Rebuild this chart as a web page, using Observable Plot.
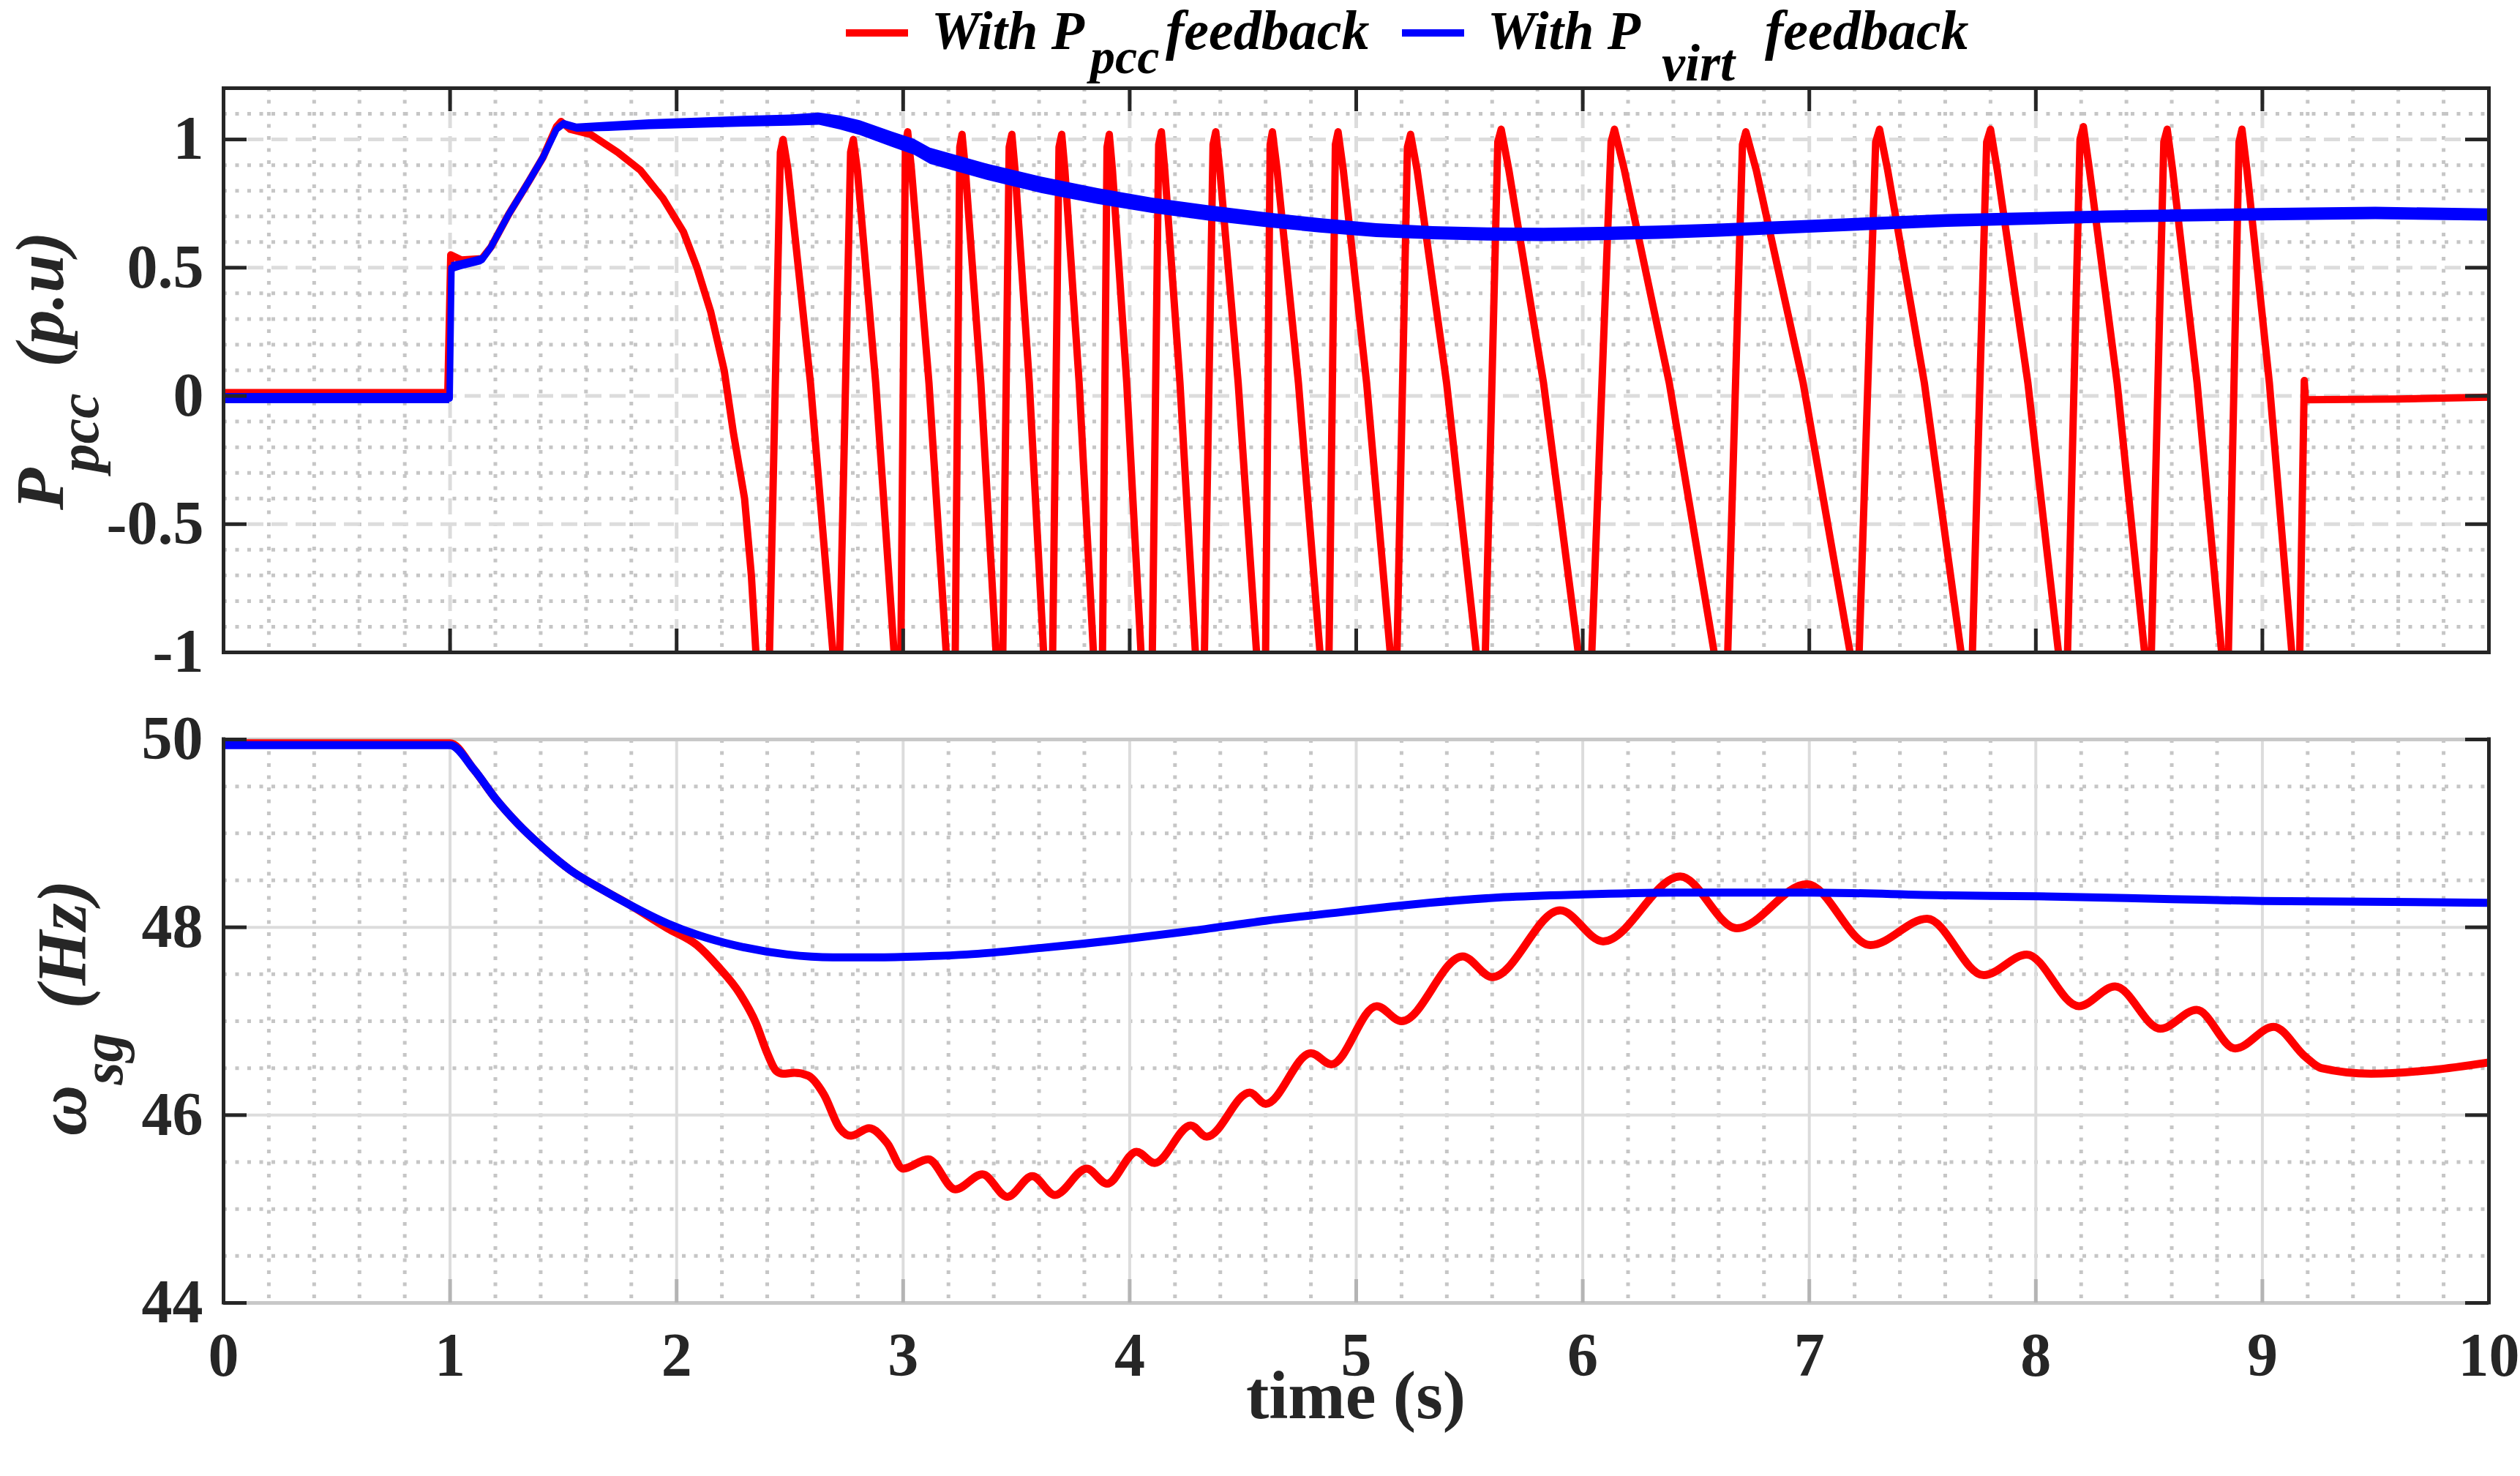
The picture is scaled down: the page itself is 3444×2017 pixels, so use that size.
<!DOCTYPE html>
<html><head><meta charset="utf-8">
<script src="https://cdn.jsdelivr.net/npm/d3@7"></script>
<script src="https://cdn.jsdelivr.net/npm/@observablehq/plot@0.6"></script>
<style>
html,body{margin:0;padding:0;background:#fff;}
#wrap{position:relative;width:3444px;height:2017px;background:#fff;overflow:hidden;}
#wrap > svg{position:absolute;left:0;}
</style></head><body><div id="wrap"></div>
<script>
// ---------------- data ----------------
const timeTicks = [0,1,2,3,4,5,6,7,8,9,10];
const pccTicks = [-1,-0.5,0,0.5,1];
const freqTicks = [44,46,48,50];
const pccMinorGrid = [-0.9,-0.8,-0.7,-0.6,-0.4,-0.3,-0.2,-0.1,0.1,0.2,0.3,0.4,0.6,0.7,0.8,0.9,1.1];
const freqMinorGrid = [44.5,45,45.5,46.5,47,47.5,48.5,49,49.5];
const timeMinorGrid = d3.range(0.2,10,0.2).filter(v => Math.abs(v - Math.round(v)) > 1e-6);

// P_pcc with P_pcc feedback (red): [time, p.u.]
const pccRedSeries = [
 [0,0.013],[0.99,0.013],[1.003,0.55],[1.05,0.53],[1.14,0.535],[1.18,0.58],[1.26,0.71],[1.35,0.84],[1.41,0.93],[1.47,1.05],[1.49,1.07],[1.53,1.04],[1.62,1.02],[1.74,0.95],[1.84,0.88],[1.94,0.77],[2.03,0.64],[2.09,0.50],[2.15,0.33],[2.21,0.10],[2.25,-0.14],[2.30,-0.40],[2.33,-0.70],[2.35,-1.0],[2.38,-1.12],
 [2.41,-1],[2.458,0.95],[2.47,1.00],[2.492,0.88],[2.591,0.05],[2.69,-1],[2.705,-1.12],
 [2.72,-1],[2.768,0.95],[2.78,1.00],[2.798,0.88],[2.879,0.05],[2.96,-1],[2.975,-1.12],
 [2.99,-1],[3.010,0.98],[3.02,1.03],[3.037,0.88],[3.114,0.05],[3.19,-1],[3.21,-1.12],
 [3.23,-1],[3.250,0.97],[3.26,1.02],[3.275,0.88],[3.343,0.05],[3.41,-1],[3.425,-1.12],
 [3.44,-1],[3.468,0.97],[3.48,1.02],[3.494,0.88],[3.557,0.05],[3.62,-1],[3.64,-1.12],
 [3.66,-1],[3.688,0.97],[3.70,1.02],[3.714,0.88],[3.777,0.05],[3.84,-1],[3.86,-1.12],
 [3.88,-1],[3.900,0.97],[3.91,1.02],[3.924,0.88],[3.987,0.05],[4.05,-1],[4.075,-1.12],
 [4.10,-1],[4.128,0.98],[4.14,1.03],[4.155,0.88],[4.222,0.05],[4.29,-1],[4.31,-1.12],
 [4.33,-1],[4.368,0.98],[4.38,1.03],[4.398,0.88],[4.479,0.05],[4.56,-1],[4.58,-1.12],
 [4.60,-1],[4.620,0.98],[4.63,1.03],[4.651,0.88],[4.745,0.05],[4.84,-1],[4.86,-1.12],
 [4.88,-1],[4.908,0.98],[4.92,1.03],[4.943,0.88],[5.046,0.05],[5.15,-1],[5.165,-1.12],
 [5.18,-1],[5.226,0.97],[5.24,1.02],[5.269,0.88],[5.399,0.05],[5.53,-1],[5.55,-1.12],
 [5.57,-1],[5.625,0.99],[5.64,1.04],[5.674,0.88],[5.827,0.05],[5.98,-1],[6.01,-1.12],
 [6.04,-1],[6.125,0.99],[6.14,1.04],[6.184,0.88],[6.382,0.05],[6.58,-1],[6.61,-1.12],
 [6.64,-1],[6.705,0.98],[6.72,1.03],[6.766,0.88],[6.973,0.05],[7.18,-1],[7.20,-1.12],
 [7.22,-1],[7.293,0.99],[7.31,1.04],[7.346,0.88],[7.508,0.05],[7.67,-1],[7.695,-1.12],
 [7.72,-1],[7.783,0.99],[7.80,1.04],[7.830,0.88],[7.965,0.05],[8.10,-1],[8.12,-1.12],
 [8.14,-1],[8.195,1.00],[8.21,1.05],[8.237,0.88],[8.359,0.05],[8.48,-1],[8.495,-1.12],
 [8.51,-1],[8.565,0.99],[8.58,1.04],[8.604,0.88],[8.712,0.05],[8.82,-1],[8.835,-1.12],
 [8.85,-1],[8.897,0.99],[8.91,1.04],[8.932,0.88],[9.031,0.05],[9.13,-1],[9.148,-1.12],
 [9.165,-1],[9.185,0.06],[9.19,-0.015],[9.6,-0.012],[10,-0.005]
];

// P_pcc with P_virt feedback (blue): [time, p.u., half-width of the noise band]
const pccBlueSeries = [
 [0,-0.01,0.02],[0.998,-0.01,0.02],[1.006,0.50,0.02],[1.05,0.51,0.018],[1.14,0.53,0.018],[1.18,0.58,0.016],[1.26,0.71,0.016],[1.35,0.84,0.016],[1.41,0.93,0.016],[1.47,1.04,0.016],[1.50,1.06,0.016],[1.56,1.045,0.016],[1.70,1.05,0.018],[1.88,1.058,0.019],[2.09,1.064,0.02],[2.30,1.07,0.021],[2.50,1.074,0.022],[2.63,1.08,0.024],[2.72,1.065,0.027],[2.81,1.045,0.029],[2.95,1.00,0.03],[3.05,0.97,0.031],[3.12,0.935,0.032],[3.37,0.873,0.032],[3.61,0.822,0.032],[3.86,0.778,0.031],[4.10,0.742,0.03],[4.35,0.712,0.03],[4.60,0.686,0.029],[4.84,0.664,0.028],[5.09,0.645,0.027],[5.34,0.635,0.026],[5.58,0.630,0.026],[5.83,0.628,0.026],[6.08,0.632,0.026],[6.33,0.637,0.026],[6.60,0.645,0.026],[7.00,0.660,0.025],[7.61,0.683,0.025],[8.32,0.698,0.024],[9.00,0.707,0.024],[9.50,0.712,0.024],[10.0,0.706,0.024]
];

// omega_sg with P_pcc feedback (red): [time, Hz]
const freqRedSeries = [
 [0,49.96],[1.0,49.96],[1.105,49.68],[1.204,49.36],[1.30,49.10],[1.40,48.87],[1.53,48.61],[1.666,48.41],[1.80,48.23],[1.96,47.99],[2.09,47.81],[2.18,47.59],[2.28,47.29],[2.35,46.98],[2.40,46.66],[2.44,46.47],[2.47,46.44],[2.52,46.45],[2.58,46.42],[2.65,46.22],[2.72,45.86],[2.77,45.78],[2.85,45.86],[2.93,45.70],[3.0,45.43],[3.11,45.53],[3.23,45.21],[3.35,45.37],[3.46,45.13],[3.57,45.35],[3.67,45.15],[3.81,45.43],[3.90,45.27],[4.03,45.61],[4.11,45.49],[4.27,45.89],[4.34,45.77],[4.53,46.24],[4.60,46.12],[4.80,46.66],[4.89,46.54],[5.09,47.16],[5.20,47.00],[5.47,47.69],[5.60,47.47],[5.90,48.18],[6.09,47.85],[6.43,48.54],[6.68,47.99],[6.99,48.46],[7.27,47.81],[7.52,48.09],[7.77,47.49],[7.96,47.71],[8.19,47.16],[8.35,47.37],[8.55,46.92],[8.71,47.12],[8.88,46.71],[9.05,46.94],[9.19,46.62],[9.26,46.50],[9.48,46.44],[9.75,46.48],[10,46.56]
];

// omega_sg with P_virt feedback (blue): [time, Hz]
const freqBlueSeries = [
 [0,49.94],[1.0,49.94],[1.105,49.68],[1.204,49.36],[1.30,49.10],[1.40,48.87],[1.53,48.61],[1.666,48.41],[1.80,48.23],[1.96,48.04],[2.13,47.89],[2.29,47.79],[2.49,47.71],[2.69,47.68],[2.88,47.68],[3.08,47.69],[3.28,47.71],[3.61,47.78],[4.00,47.88],[4.27,47.96],[4.60,48.07],[4.93,48.16],[5.15,48.22],[5.32,48.26],[5.65,48.32],[6.0,48.35],[6.47,48.37],[7.0,48.37],[7.61,48.34],[8.0,48.33],[8.60,48.30],[9.0,48.28],[9.58,48.27],[10,48.26]
];

(function () {
// ---------------- build ----------------
const toObj = a => a.map(([t, v, w]) => ({t, v, w}));
const redTop = toObj(pccRedSeries), blueTop = toObj(pccBlueSeries);
const redBot = toObj(freqRedSeries), blueBot = toObj(freqBlueSeries);

const dark = "#262626", gMajor = "#dcdcdc", gMinor = "#c6c6c6";
const RED = "#ff0000", BLUE = "#0000ff";
const W = 3444, ML = 305, MR = 43;
const FONT = "Liberation Serif";
const innerTime = timeTicks.slice(1, -1);
const dotted = {stroke: gMinor, strokeWidth: 5, strokeDasharray: "5,11.5"};
const tickLen = -32;
const fontStyle = {fontFamily: FONT, fontWeight: "bold", color: dark, background: "transparent", overflow: "visible"};

const chartTop = Plot.plot({
  width: W, height: 950, marginLeft: ML, marginRight: MR, marginTop: 120, marginBottom: 59,
  style: fontStyle,
  x: {domain: [0, 10], axis: null, label: null},
  y: {domain: [-1, 1.2], label: null},
  marks: [
    Plot.ruleX(timeMinorGrid, dotted),
    Plot.ruleY(pccMinorGrid, dotted),
    Plot.ruleX(innerTime, {stroke: gMajor, strokeWidth: 5, strokeDasharray: "22,11"}),
    Plot.ruleY([-0.5, 0, 0.5, 1], {stroke: gMajor, strokeWidth: 5, strokeDasharray: "22,11"}),
    Plot.lineY(redTop, {x: "t", y: "v", stroke: RED, strokeWidth: 10, strokeLinejoin: "round", clip: true}),
    Plot.areaY(blueTop, {x: "t", y1: d => d.v - d.w, y2: d => d.v + d.w, fill: BLUE, clip: true}),
    Plot.lineY(blueTop, {x: "t", y: "v", stroke: BLUE, strokeWidth: 9, strokeLinejoin: "round", clip: true}),
    Plot.frame({stroke: dark, strokeWidth: 5}),
    Plot.ruleY(pccTicks, {x1: 0, x2: 0, insetRight: tickLen, stroke: dark, strokeWidth: 5}),
    Plot.ruleY(pccTicks, {x1: 10, x2: 10, insetLeft: tickLen, stroke: dark, strokeWidth: 5}),
    Plot.ruleX(innerTime, {y1: 1.2, y2: 1.2, insetBottom: tickLen, stroke: dark, strokeWidth: 5}),
    Plot.ruleX(innerTime, {y1: -1, y2: -1, insetTop: tickLen, stroke: dark, strokeWidth: 5}),
    Plot.axisY({ticks: pccTicks, tickSize: 0, tickPadding: 27, fontSize: 84, fontWeight: "bold", fill: dark, label: null, tickFormat: d => String(d)})
  ]
});
chartTop.style.top = "0px";

const chartBot = Plot.plot({
  width: W, height: 1067, marginLeft: ML, marginRight: MR, marginTop: 60, marginBottom: 237,
  style: fontStyle,
  x: {domain: [0, 10], label: null},
  y: {domain: [44, 50], label: null},
  marks: [
    Plot.ruleX(timeMinorGrid, dotted),
    Plot.ruleY(freqMinorGrid, dotted),
    Plot.ruleX(innerTime, {stroke: gMajor, strokeWidth: 4}),
    Plot.ruleY([46, 48], {stroke: gMajor, strokeWidth: 4}),
    Plot.ruleY([44, 50], {stroke: "#c8c8c8", strokeWidth: 5}),
    Plot.ruleX(innerTime, {y1: 44, y2: 44, insetTop: tickLen, stroke: "#b4b4b4", strokeWidth: 5}),
    Plot.lineY(redBot, {x: "t", y: "v", stroke: RED, strokeWidth: 11, curve: "monotone-x", clip: true}),
    Plot.lineY(blueBot, {x: "t", y: "v", stroke: BLUE, strokeWidth: 11, curve: "monotone-x", clip: true}),
    Plot.ruleX([0, 10], {stroke: dark, strokeWidth: 5, insetTop: -2.5, insetBottom: -2.5}),
    Plot.ruleY(freqTicks, {x1: 0, x2: 0, insetRight: tickLen, stroke: dark, strokeWidth: 5}),
    Plot.ruleY(freqTicks, {x1: 10, x2: 10, insetLeft: tickLen, stroke: dark, strokeWidth: 5}),
    Plot.axisY({ticks: freqTicks, tickSize: 0, tickPadding: 28, fontSize: 84, fontWeight: "bold", fill: dark, label: null, tickFormat: d => String(d)}),
    Plot.axisX({ticks: timeTicks, tickSize: 0, tickPadding: 40, fontSize: 84, fontWeight: "bold", fill: dark, label: null, tickFormat: d => String(d)})
  ]
});
chartBot.style.top = "950px";

const wrap = document.getElementById("wrap");
wrap.appendChild(chartTop);
wrap.appendChild(chartBot);

// ---------------- overlay: legend and axis titles ----------------
const ov = d3.create("svg").attr("width", W).attr("height", 2017)
  .style("position", "absolute").style("left", "0px").style("top", "0px")
  .style("pointer-events", "none")
  .attr("font-family", FONT);

function piece(x, y, str, size, color = "#000", italic = true) {
  ov.append("text").attr("x", x).attr("y", y).attr("font-size", size)
    .attr("font-weight", "bold").attr("font-style", italic ? "italic" : "normal")
    .attr("fill", color).text(str);
}
// legend
ov.append("rect").attr("x", 1156).attr("y", 40).attr("width", 85).attr("height", 10).attr("fill", RED);
piece(1273, 67, "With P", 74);
piece(1490, 100, "pcc", 68);
piece(1593, 67, "feedback", 76);
ov.append("rect").attr("x", 1916).attr("y", 40).attr("width", 85).attr("height", 10).attr("fill", BLUE);
piece(2033, 67, "With P", 74);
piece(2271, 110, "virt", 72);
piece(2412, 67, "feedback", 76);

// y label (top): P_pcc (p.u)
{
  const t = ov.append("text").attr("transform", "translate(86,697) rotate(-90)")
    .attr("font-weight", "bold").attr("font-style", "italic").attr("fill", dark).attr("font-size", 94);
  t.append("tspan").text("P");
  t.append("tspan").attr("dx", -6).attr("dy", 48).attr("font-size", 78).text("pcc");
  t.append("tspan").attr("dx", 12).attr("dy", -48).text(" (p.u)");
}
// y label (bottom): ω_sg (Hz)
{
  const t = ov.append("text").attr("transform", "translate(117,1552) rotate(-90)")
    .attr("font-weight", "bold").attr("font-style", "italic").attr("fill", dark).attr("font-size", 96);
  t.append("tspan").text("ω");
  t.append("tspan").attr("dy", 50).attr("font-size", 80).text("sg");
  t.append("tspan").attr("dx", 9).attr("dy", -50).text(" (Hz)");
}
// x label
ov.append("text").attr("x", 1853).attr("y", 1938).attr("text-anchor", "middle")
  .attr("font-size", 94).attr("font-weight", "bold").attr("fill", dark).text("time (s)");

wrap.appendChild(ov.node());
})();
</script>
</body></html>
